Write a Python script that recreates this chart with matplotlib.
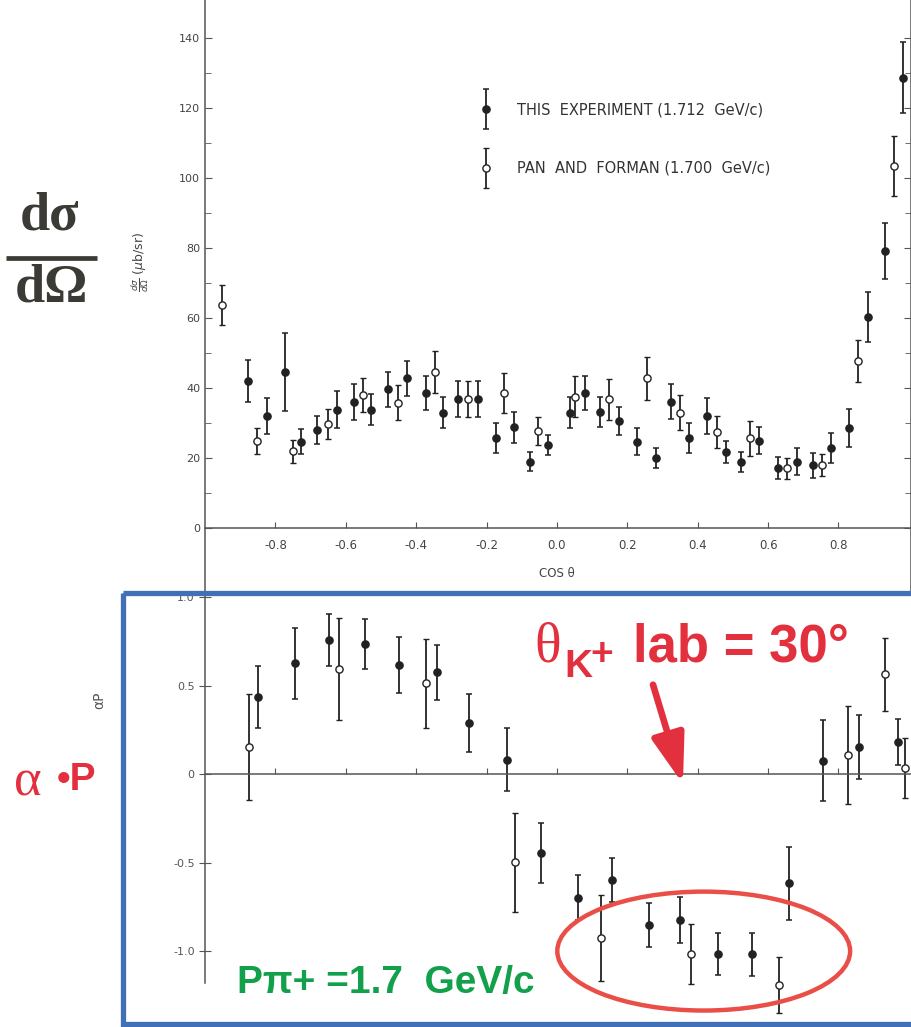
import numpy as np
import matplotlib.pyplot as plt
from matplotlib.patches import Ellipse, Rectangle
from matplotlib.container import ErrorbarContainer
from matplotlib.legend_handler import HandlerErrorbar

# Differential cross section, this experiment (1.712 GeV/c)
xs_this_cos = [-0.877, -0.825, -0.773, -0.727, -0.681, -0.626, -0.576, -0.527, -0.479,
               -0.425, -0.372, -0.325, -0.282, -0.225, -0.173, -0.122, -0.077, -0.025,
               0.037, 0.080, 0.122, 0.176, 0.228, 0.281, 0.323, 0.376, 0.425, 0.479,
               0.523, 0.575, 0.629, 0.681, 0.728, 0.780, 0.830, 0.883, 0.932, 0.984]
xs_this_val = [42.0, 32.0, 44.6, 24.6, 27.9, 33.8, 36.0, 33.8, 39.6,
               42.7, 38.6, 32.9, 36.8, 36.8, 25.7, 28.7, 18.9, 23.6,
               32.9, 38.6, 33.0, 30.6, 24.6, 20.0, 36.0, 25.7, 31.9, 21.7,
               18.9, 24.9, 17.0, 18.9, 17.9, 22.9, 28.6, 60.3, 79.3, 128.8]
xs_this_err = [6.1, 5.2, 11.2, 3.5, 4.0, 5.2, 5.2, 4.4, 5.0,
               5.1, 4.9, 4.5, 5.2, 5.2, 4.2, 4.5, 2.7, 2.9,
               4.5, 4.9, 4.3, 4.0, 3.9, 2.9, 5.0, 4.2, 5.2, 3.1,
               2.9, 3.8, 3.2, 3.9, 3.6, 4.3, 5.4, 7.2, 8.0, 10.2]

# Pan and Forman (1.700 GeV/c)
xs_pan_cos = [-0.952, -0.853, -0.749, -0.651, -0.550, -0.451, -0.347, -0.252, -0.151, -0.053,
              0.051, 0.149, 0.255, 0.349, 0.454, 0.548, 0.655, 0.752, 0.856, 0.957]
xs_pan_val = [63.7, 24.9, 21.9, 29.8, 37.9, 35.8, 44.6, 36.8, 38.6, 27.6,
              37.5, 36.7, 42.7, 32.9, 27.4, 25.6, 17.0, 17.9, 47.7, 103.5]
xs_pan_err = [5.7, 3.7, 3.3, 4.3, 4.8, 5.1, 6.1, 5.2, 5.8, 4.0,
              5.9, 5.9, 6.2, 5.0, 4.5, 5.0, 3.0, 3.2, 6.1, 8.7]

# Polarization alpha*P
pol_this_cos = [-0.850, -0.744, -0.648, -0.545, -0.448, -0.342, -0.249, -0.143, -0.046, 0.059,
                0.157, 0.261, 0.351, 0.458, 0.555, 0.660, 0.755, 0.859, 0.970]
pol_this_val = [0.438, 0.627, 0.759, 0.734, 0.617, 0.576, 0.288, 0.081, -0.446, -0.697,
                -0.597, -0.851, -0.823, -1.017, -1.017, -0.616, 0.077, 0.156, 0.181]
pol_this_err = [0.174, 0.20, 0.147, 0.141, 0.158, 0.157, 0.163, 0.178, 0.17, 0.128,
                0.122, 0.124, 0.13, 0.118, 0.12, 0.207, 0.23, 0.18, 0.13]

pol_pan_cos = [-0.875, -0.619, -0.372, -0.119, 0.125, 0.381, 0.632, 0.826, 0.932, 0.989]
pol_pan_val = [0.153, 0.595, 0.514, -0.497, -0.923, -1.015, -1.19, 0.109, 0.565, 0.037]
pol_pan_err = [0.30, 0.287, 0.25, 0.28, 0.243, 0.171, 0.16, 0.276, 0.205, 0.17]

x_ticks = [-0.8, -0.6, -0.4, -0.2, 0.0, 0.2, 0.4, 0.6, 0.8]

W, H = 911, 1027
ink = '#222222'
axc = '#555555'
red = '#e3303e'
blue = '#4170b8'
green = '#12a04a'

fig = plt.figure(figsize=(W / 100, H / 100), dpi=100)


def px_axes(x0, y0, x1, y1, **kw):
    # axes placed by pixel box (top-left origin)
    return fig.add_axes([x0 / W, 1 - y1 / H, (x1 - x0) / W, (y1 - y0) / H], **kw)


eb = dict(capsize=2.5, elinewidth=1.3, capthick=1.1, ms=5.2, ecolor=ink, lw=0)

# ---- cross section panel ----
ax = px_axes(205, 0, 911, 592)
ax.set_xlim(-1.0, 1.006)
ax.set_ylim(-18.4, 151)
h1 = ax.errorbar(xs_this_cos, xs_this_val, yerr=xs_this_err, fmt='o', mfc=ink, mec=ink, **eb)
h2 = ax.errorbar(xs_pan_cos, xs_pan_val, yerr=xs_pan_err, fmt='o', mfc='white', mec=ink, mew=1.0, **eb)
ax.spines['top'].set_visible(False)
ax.spines['bottom'].set_position(('data', 0))
for s in ax.spines.values():
    s.set_color(axc)
    s.set_linewidth(1.1)
ax.set_xticks(x_ticks)
ax.set_xticklabels([f'{t:.1f}' for t in x_ticks])
ax.set_yticks(np.arange(0, 141, 20))
ax.set_yticks(np.arange(10, 141, 20), minor=True)
ax.tick_params(axis='both', which='both', direction='in', colors=axc, labelcolor='#444444',
               labelsize=8, right=True, labelright=False)
ax.tick_params(axis='x', length=4, pad=8, labelsize=8.5)
ax.tick_params(axis='y', which='major', length=5)
ax.tick_params(axis='y', which='minor', length=4)
ax.text(0.0, -13, 'COS θ', ha='center', va='center', fontsize=8.5, color='#444444')
ax.text(-1.185, 76, r'$\frac{d\sigma}{d\Omega}$ ($\mu$b/sr)', rotation=90, ha='center', va='center',
        fontsize=9, color='#444444')
leg = ax.legend([h1, h2], ['THIS  EXPERIMENT (1.712  GeV/c)', 'PAN  AND  FORMAN (1.700  GeV/c)'],
                loc='upper left', bbox_to_anchor=(0.359, 0.849), frameon=False,
                fontsize=10.5, labelspacing=2.97, handletextpad=1.14, handlelength=2.0,
                handler_map={ErrorbarContainer: HandlerErrorbar(yerr_size=1.37)})
for t in leg.get_texts():
    t.set_color('#333333')

# ---- polarization panel ----
bx = px_axes(205, 592, 911, 1027)
bx.set_xlim(-1.0, 1.006)
bx.set_ylim(-1.428, 1.03)
bx.errorbar(pol_this_cos, pol_this_val, yerr=pol_this_err, fmt='o', mfc=ink, mec=ink, **eb)
bx.errorbar(pol_pan_cos, pol_pan_val, yerr=pol_pan_err, fmt='o', mfc='white', mec=ink, mew=1.0, **eb)
bx.spines['top'].set_visible(False)
bx.spines['right'].set_visible(False)
bx.spines['bottom'].set_position(('data', 0))
bx.spines['left'].set_bounds(-1.18, 1.03)
for s in bx.spines.values():
    s.set_color(axc)
    s.set_linewidth(1.1)
bx.set_xticks(x_ticks)
bx.set_xticklabels([])
bx.set_yticks([-1.0, -0.5, 0.0, 0.5, 1.0])
bx.set_yticklabels(['-1.0', '-0.5', '0', '0.5', '1.0'])
bx.tick_params(axis='both', direction='in', colors=axc, labelcolor='#555555', labelsize=8)
bx.tick_params(axis='x', length=4)
bx.tick_params(axis='y', direction='inout', length=8)
bx.text(-1.3, 0.42, 'αP', rotation=90, ha='center', va='center', fontsize=10, color='#555555')

# highlight of the negative polarization region and the 30 degree marker
bx.add_patch(Ellipse((0.417, -0.999), 0.832, 0.672, fill=False, ec='#ea4f47', lw=3.2, zorder=5))
bx.annotate('', xy=(0.358, -0.055), xytext=(0.273, 0.506),
            arrowprops=dict(arrowstyle='-|>,head_length=1.5,head_width=0.5', lw=4.8,
                            color=red, mutation_scale=20, shrinkA=0, shrinkB=0), zorder=6)

# ---- overlay in pixel units for labels and frame ----
ov = px_axes(0, 0, W, H, zorder=10)
ov.set_xlim(0, W)
ov.set_ylim(H, 0)
ov.axis('off')
ov.patch.set_alpha(0)

ov.add_patch(Rectangle((123, 593), 850, 431, fill=False, ec=blue, lw=3.8))

dark = '#3b3a34'
ov.text(50, 230, 'dσ', ha='center', va='baseline', fontsize=39, fontweight='bold',
        family='Liberation Serif', color=dark)
ov.plot([6, 97], [258, 258], color=dark, lw=3.4, solid_capstyle='butt')
ov.text(51, 302, 'dΩ', ha='center', va='baseline', fontsize=39, fontweight='bold',
        family='Liberation Serif', color=dark)

ov.text(14, 795, 'α', ha='left', va='baseline', fontsize=38, family='Liberation Serif', color=red)
ov.text(57, 790, '•P', ha='left', va='baseline', fontsize=28, fontweight='bold',
        family='Liberation Sans', color=red)

ov.text(534, 662, 'θ', ha='left', va='baseline', fontsize=40, family='Liberation Serif', color=red)
ov.text(564, 677, 'K', ha='left', va='baseline', fontsize=28, fontweight='bold',
        family='Liberation Sans', color=red)
ov.text(590, 665, '+', ha='left', va='baseline', fontsize=28, fontweight='bold',
        family='Liberation Sans', color=red)
ov.text(633, 662, 'lab = 30°', ha='left', va='baseline', fontsize=38, fontweight='bold',
        family='Liberation Sans', color=red)

ov.text(237, 993, 'Pπ+ =1.7  GeV/c', ha='left', va='baseline', fontsize=28, fontweight='bold',
        family='Liberation Sans', color=green)

fig.savefig('out.png', dpi=100)
